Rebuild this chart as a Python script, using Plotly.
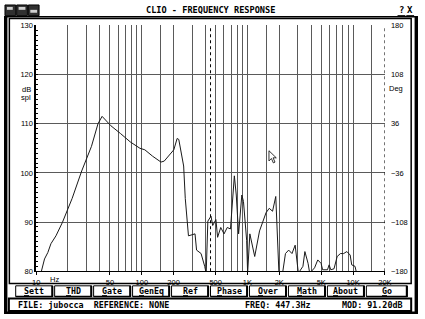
import math
import plotly.graph_objects as go

# ---------------- data ----------------
freq_hz = [11.0, 11.6, 12.0, 12.9, 13.8, 15.4, 17.1, 17.7, 21.9, 27.0, 33.4, 38.5, 42.1,
           50.9, 62.9, 77.8, 96.1, 106.8, 126.5, 152, 163, 201, 216, 224, 249, 258,
           276.5, 319, 330, 364, 394, 407, 422, 452, 469, 503, 522, 559, 601, 644,
           691, 716, 752, 784, 825, 885, 917, 983, 1004, 1054, 1172, 1302, 1400,
           1500, 1609, 1729, 1854, 1988, 2150, 2291, 2457, 2640, 2830, 2934, 3035,
           3352, 3497, 3749, 3886, 4320, 4631, 4977, 5148, 5723, 5933, 6151, 6600,
           7071, 7597, 8145, 8734, 9386, 9708, 10431, 10792]
spl_db = [79.3, 81.3, 82.5, 83.8, 85.6, 87.2, 89.2, 89.9, 94.8, 100.4, 105.4, 110.0, 111.5,
          109.6, 108.0, 106.3, 105.0, 104.7, 103.4, 102.2, 102.4, 104.7, 107.0, 106.8, 101.4, 94.8,
          87.2, 87.6, 84.3, 83.6, 81.0, 79.6, 90.2, 91.2, 89.3, 90.5, 86.9, 88.9, 87.6, 88.9,
          88.6, 92.8, 99.4, 95.5, 87.6, 95.5, 94.2, 86.3, 79.6, 87.6, 83.0, 88.2, 89.9,
          91.9, 92.8, 92.2, 95.2, 79.6, 79.6, 83.6, 84.3, 83.6, 85.3, 82.4, 79.6,
          81.0, 84.0, 81.6, 79.6, 80.7, 82.3, 81.6, 80.3, 80.3, 81.3, 80.3, 80.5,
          83.0, 83.6, 83.6, 84.0, 83.3, 81.3, 81.0, 79.6]

x_tick_vals = [10, 50, 100, 200, 500, 1000, 2000, 5000, 10000, 20000]
x_tick_text = ["10", "50", "100", "200", "500", "1K", "2K", "5K", "10K", "20K"]
grid_freqs = [20, 30, 40, 50, 60, 70, 80, 90, 100, 150, 200, 300, 400, 500, 600, 700, 800,
              900, 1000, 1500, 2000, 3000, 4000, 5000, 6000, 7000, 8000, 9000, 10000, 15000]
spl_ticks = [80, 90, 100, 110, 120, 130]
phase_ticks = [-180, -108, -36, 36, 108, 180]
cursor_freq = 447.3
buttons = ["Sett", "THD", "Gate", "GenEq", "Ref", "Phase", "Over", "Math", "About", "Go"]
title_text = "CLIO - FREQUENCY RESPONSE"
status_file = "FILE: jubocca  REFERENCE: NONE"
status_freq = "FREQ: 447.3Hz"
status_mod = "MOD: 91.20dB"

# ---------------- geometry helpers ----------------
W, H = 425, 319
def px(x):
    return x / W
def py(y):
    return 1 - y / H

PL, PR, PT, PB = 33, 391, 22, 275
MONO = "DejaVu Sans Mono"
SANS = "Liberation Sans"

fig = go.Figure()
fig.add_trace(go.Scatter(x=freq_hz, y=spl_db, mode="lines",
                         line=dict(color="#1a1a1a", width=1), hoverinfo="skip"))
fig.add_trace(go.Scatter(x=[], y=[], yaxis="y2", mode="lines", hoverinfo="skip"))

shapes = []
annotations = []

def rect(x0, y0, x1, y1, line="black", width=1, fill=None, layer="above"):
    d = dict(type="rect", xref="paper", yref="paper", x0=px(x0), x1=px(x1),
             y0=py(y1), y1=py(y0), line=dict(color=line, width=width), layer=layer)
    if fill:
        d["fillcolor"] = fill
    shapes.append(d)

def hline(x0, x1, y, color="black", width=1, dash="solid"):
    shapes.append(dict(type="line", xref="paper", yref="paper", x0=px(x0), x1=px(x1),
                       y0=py(y), y1=py(y), line=dict(color=color, width=width, dash=dash)))

def vline(x, y0, y1, color="black", width=1, dash="solid"):
    shapes.append(dict(type="line", xref="paper", yref="paper", x0=px(x), x1=px(x),
                       y0=py(y0), y1=py(y1), line=dict(color=color, width=width, dash=dash)))

def text(x, y, s, size=8, family=SANS, anchor="center", color="black"):
    annotations.append(dict(x=px(x), y=py(y), xref="paper", yref="paper", text=s,
                            showarrow=False, xanchor=anchor, yanchor="middle",
                            font=dict(family=family, size=size, color=color)))

# outer window frame
rect(0, 13, 3.5, 319, line="black", width=0, fill="black")
rect(421.5, 13, 425, 319, line="black", width=0, fill="black")
rect(0, 316.5, 425, 319, line="black", width=0, fill="black")
hline(0, 425, 13, width=1.5)

# title bar
text(212, 6.5, "<b>" + title_text + "</b>", size=8.6, family=MONO)
for i, x0 in enumerate([1, 13, 25]):
    rect(x0, 1, x0 + 11, 12, line="black", width=1, fill="#303030")
rect(3, 3, 9, 6, line="white", width=0, fill="#d0d0d0")
rect(15, 3, 22, 6, line="white", width=0, fill="#d0d0d0")
rect(27, 6, 34, 9, line="white", width=0, fill="#d0d0d0")
text(408, 6.5, "<b>?</b>", size=9, family=MONO)
text(417, 6.5, "<b>X</b>", size=9, family=MONO)
hline(404, 412, 12, width=1)
hline(413, 421, 12, width=1)

# panel border
rect(5.5, 15, 418, 287.5, line="black", width=1.5)

# buttons
for i, b in enumerate(buttons):
    x0 = 12 + 40 * i
    x1 = x0 + 38 if b != "Go" else 414
    rect(x0, 290, x1, 301, line="black", width=1, fill="white")
    vline(x1 - 0.5, 290, 301.5, width=2)
    hline(x0, x1, 301, width=1.5)
    text((x0 + x1) / 2, 295.7, "<b><u>" + b[0] + "</u>" + b[1:] + "</b>", size=8.3, family=MONO)

# status bar
rect(5, 303, 418, 316, line="black", width=2, fill="white")
text(12, 309.5, "<b>" + status_file + "</b>", size=8.4, family=MONO, anchor="left")
text(245, 309.5, "<b>" + status_freq + "</b>", size=8.4, family=MONO, anchor="left")
text(345, 309.5, "<b>" + status_mod + "</b>", size=8.4, family=MONO, anchor="left")

# axis titles
text(23, 88, "dB", size=7.5)
text(23, 96, "spl", size=7.5)
text(402, 86.5, "Deg", size=7.5)
text(52, 283.5, "Hz", size=7.5)

# right dotted axis and cursor
shapes.append(dict(type="line", xref="x", yref="paper", x0=20000, x1=20000,
                   y0=py(PB), y1=py(PT), line=dict(color="black", width=1, dash="dot")))
shapes.append(dict(type="line", xref="x", yref="paper", x0=cursor_freq, x1=cursor_freq,
                   y0=py(PB), y1=py(PT), line=dict(color="black", width=1, dash="dot")))

# mouse pointer
pts = [(272, 151), (272, 161.5), (274.5, 159), (276.5, 163.5), (278.2, 162.7),
       (276.2, 158.3), (279.5, 158.3)]
path = "M " + " L ".join(f"{px(a):.5f},{py(b):.5f}" for a, b in pts) + " Z"
shapes.append(dict(type="path", xref="paper", yref="paper", path=path,
                   fillcolor="white", line=dict(color="black", width=0.8)))

fig.update_layout(
    width=W, height=H, margin=dict(l=0, r=0, t=0, b=0),
    paper_bgcolor="white", plot_bgcolor="white", showlegend=False,
    xaxis=dict(type="log", range=[1, math.log10(20000)], domain=[px(PL), px(PR)],
               tickmode="array", tickvals=x_tick_vals, ticktext=x_tick_text,
               ticks="outside", ticklen=3, tickcolor="black", showgrid=False,
               showline=True, linecolor="black", linewidth=1, zeroline=False,
               ticklabelstandoff=1,
               tickfont=dict(family=SANS, size=7.5, color="black"),
               minor=dict(tickmode="array", tickvals=grid_freqs, showgrid=True,
                          gridcolor="#5a5a5a", gridwidth=1, ticks="")),
    yaxis=dict(range=[80, 130], domain=[py(PB), py(PT)], tickmode="array",
               tickvals=spl_ticks, showgrid=True, gridcolor="#5a5a5a", gridwidth=1,
               showline=True, linecolor="black", linewidth=1.5, zeroline=False,
               ticks="inside", ticklen=2, tickcolor="black",
               tickfont=dict(family=SANS, size=7.5, color="black"),
               minor=dict(tickmode="linear", tick0=80, dtick=1, ticks="inside",
                          ticklen=2, tickcolor="black", showgrid=False)),
    yaxis2=dict(range=[-180, 180], overlaying="y", side="right", anchor="x",
                tickmode="array", tickvals=phase_ticks, showgrid=False, showline=False,
                zeroline=False, ticks="", ticklabelstandoff=5,
                tickfont=dict(family=SANS, size=7.5, color="black")),
    shapes=shapes, annotations=annotations,
)
fig.write_html("out.html")
